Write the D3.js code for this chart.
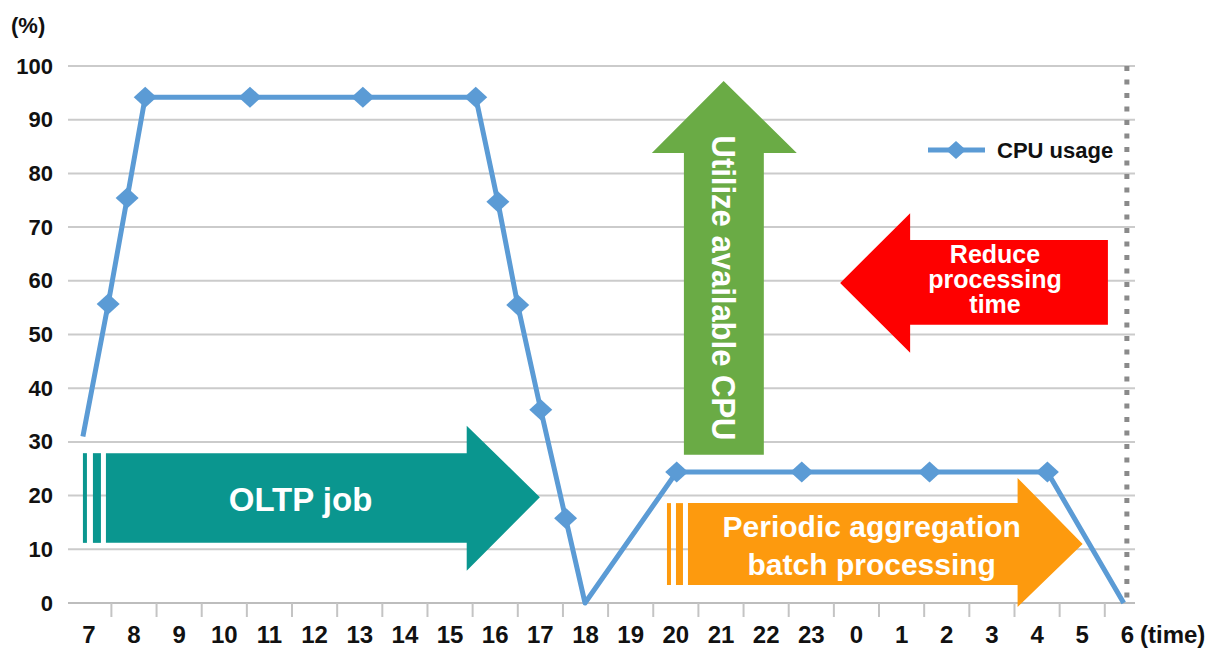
<!DOCTYPE html>
<html>
<head>
<meta charset="utf-8">
<script src="https://cdn.jsdelivr.net/npm/d3@7"></script>
<style>
  body { margin: 0; background: #fff; }
  svg text { font-family: "Liberation Sans", Arial, sans-serif; font-weight: bold; }
</style>
</head>
<body>
<script>
// hour axis: 7 o'clock through 6 o'clock next morning
var hours = d3.range(7, 31);
var hourLabels = ["7","8","9","10","11","12","13","14","15","16","17","18","19",
                  "20","21","22","23","0","1","2","3","4","5","6"];
var yTicks = [0, 10, 20, 30, 40, 50, 60, 70, 80, 90, 100];

// CPU usage points (time in hours, value in %)
var cpuTime  = [6.88, 7.44, 7.86, 8.26, 10.58, 13.08, 15.58, 16.07, 16.51, 17.02, 17.57, 18.0,
                20.03, 22.8, 25.63, 28.24, 29.93];
var cpuUsage = [31, 55.7, 75.4, 94.2, 94.2, 94.2, 94.2, 74.7, 55.5, 36, 15.8, 0,
                24.4, 24.4, 24.4, 24.4, 0];

var W = 1219, H = 655;
var plotLeft = 68, plotRight = 1135, plotTop = 66, plotBottom = 603;

var svg = d3.select("body").append("svg")
    .attr("width", W)
    .attr("height", H);

var x = d3.scaleLinear().domain([6.55, 30.18]).range([plotLeft, plotRight]);
var y = d3.scaleLinear().domain([0, 100]).range([plotBottom, plotTop]);

var blue = "#5b9bd5";

// gridlines
svg.append("g")
   .selectAll("line")
   .data(yTicks)
   .enter()
   .append("line")
   .attr("x1", plotLeft).attr("x2", plotRight)
   .attr("y1", function(d){ return y(d); })
   .attr("y2", function(d){ return y(d); })
   .attr("stroke", function(d){ return d === 0 ? "#bdbdbd" : "#cbcbcb"; })
   .attr("stroke-width", 2);

// small tick marks between hour labels
svg.append("g")
   .attr("transform", "translate(0," + plotBottom + ")")
   .call(d3.axisBottom(x).tickValues(d3.range(7.5, 30, 1)).tickSize(14).tickFormat(""))
   .call(function(g){ g.select(".domain").remove(); })
   .selectAll("line")
   .attr("stroke", "#c4c4c4")
   .attr("stroke-width", 2);

// hour labels
var xAxis = svg.append("g")
   .attr("transform", "translate(0," + plotBottom + ")")
   .call(d3.axisBottom(x).tickValues(hours).tickSize(0)
           .tickFormat(function(d, i){ return hourLabels[i]; }));
xAxis.select(".domain").remove();
xAxis.selectAll("text")
   .attr("y", 40)
   .attr("dy", null)
   .attr("fill", "#111")
   .style("font-size", "24px");

svg.append("text")
   .attr("x", 1140).attr("y", 643)
   .attr("fill", "#111")
   .style("font-size", "24px")
   .text("(time)");

// y labels
var yAxis = svg.append("g")
   .attr("transform", "translate(" + plotLeft + ",0)")
   .call(d3.axisLeft(y).tickValues(yTicks).tickSize(0));
yAxis.select(".domain").remove();
yAxis.selectAll("text")
   .attr("x", -15)
   .attr("fill", "#111")
   .style("font-size", "22px");

svg.append("text")
   .attr("x", 11).attr("y", 33)
   .attr("fill", "#111")
   .style("font-size", "22px")
   .text("(%)");

// dotted end-of-day line
svg.append("line")
   .attr("x1", x(30)).attr("x2", x(30))
   .attr("y1", y(100)).attr("y2", y(0))
   .attr("stroke", "#8a8a8a")
   .attr("stroke-width", 5)
   .attr("stroke-dasharray", "5,8.5");

// arrows, geometry in chart units
function rightArrow(a, fill, stripes) {
  var x0 = x(a.from), xh = x(a.head), xt = x(a.tip);
  var yt = y(a.top), yb = y(a.bot), yht = y(a.headTop), yhb = y(a.headBot), ym = y(a.mid);
  var g = svg.append("g");
  g.append("path")
   .attr("d", "M" + x0 + "," + yt + "L" + xh + "," + yt + "L" + xh + "," + yht +
              "L" + xt + "," + ym + "L" + xh + "," + yhb + "L" + xh + "," + yb +
              "L" + x0 + "," + yb + "Z")
   .attr("fill", fill);
  stripes.forEach(function(s){
    g.append("rect")
     .attr("x", x0 + s[0]).attr("y", yt)
     .attr("width", s[1]).attr("height", yb - yt)
     .attr("fill", fill);
  });
  return g;
}

var oltp = rightArrow({from: 7.39, head: 15.38, tip: 17.0, top: 27.9, bot: 11.2,
                       headTop: 33, headBot: 6, mid: 19.7}, "#0a968f", [[-23, 4], [-13, 8]]);
oltp.append("text")
    .attr("x", x(11.7)).attr("y", 511)
    .attr("text-anchor", "middle")
    .attr("fill", "#fff")
    .style("font-size", "33px")
    .text("OLTP job");

var batch = rightArrow({from: 20.28, head: 27.58, tip: 29.02, top: 18.6, bot: 3.35,
                        headTop: 23.3, headBot: -0.75, mid: 11.0}, "#fd9a0e", [[-21, 4], [-12, 7]]);
batch.append("text")
     .attr("x", x(24.35)).attr("y", 537)
     .attr("text-anchor", "middle")
     .attr("fill", "#fff")
     .style("font-size", "30px")
     .text("Periodic aggregation");
batch.append("text")
     .attr("x", x(24.35)).attr("y", 575)
     .attr("text-anchor", "middle")
     .attr("fill", "#fff")
     .style("font-size", "30px")
     .text("batch processing");

// green up arrow
var gx0 = x(20.19), gx1 = x(21.96), ghl = x(19.48), ghr = x(22.69), gtx = x(21.07);
var gty = y(97.2), ghy = y(83.8), gby = y(27.6);
svg.append("path")
   .attr("d", "M" + gx0 + "," + gby + "L" + gx0 + "," + ghy + "L" + ghl + "," + ghy +
              "L" + gtx + "," + gty + "L" + ghr + "," + ghy + "L" + gx1 + "," + ghy +
              "L" + gx1 + "," + gby + "Z")
   .attr("fill", "#6aab45");
svg.append("text")
   .attr("transform", "translate(" + gtx + "," + 288 + ") rotate(90)")
   .attr("text-anchor", "middle")
   .attr("dominant-baseline", "central")
   .attr("fill", "#fff")
   .attr("textLength", 305)
   .attr("lengthAdjust", "spacingAndGlyphs")
   .style("font-size", "33px")
   .text("Utilize available CPU");

// red left arrow
var rtx = x(23.65), rhx = x(25.2), rbx = x(29.58);
var rty = y(59.6), rbt = y(67.6), rbb = y(51.8), rht = y(72.6), rhb = y(46.6);
svg.append("path")
   .attr("d", "M" + rbx + "," + rbt + "L" + rhx + "," + rbt + "L" + rhx + "," + rht +
              "L" + rtx + "," + rty + "L" + rhx + "," + rhb + "L" + rhx + "," + rbb +
              "L" + rbx + "," + rbb + "Z")
   .attr("fill", "#fe0000");
svg.append("g")
   .selectAll("text")
   .data(["Reduce", "processing", "time"])
   .enter()
   .append("text")
   .attr("x", x(27.08))
   .attr("y", function(d, i){ return 263 + i * 25; })
   .attr("text-anchor", "middle")
   .attr("fill", "#fff")
   .style("font-size", "25px")
   .text(function(d){ return d; });

// CPU usage line
var pts = cpuTime.map(function(t, i){ return [t, cpuUsage[i]]; });
var line = d3.line()
    .x(function(d){ return x(d[0]); })
    .y(function(d){ return y(d[1]); });

svg.append("path")
   .datum(pts)
   .attr("d", line)
   .attr("fill", "none")
   .attr("stroke", blue)
   .attr("stroke-width", 5)
   .attr("stroke-linejoin", "round");

function diamond(cx, cy, w, h) {
  return "M" + (cx - w) + "," + cy + "L" + cx + "," + (cy - h) +
         "L" + (cx + w) + "," + cy + "L" + cx + "," + (cy + h) + "Z";
}

svg.append("g")
   .selectAll("path")
   .data(pts.filter(function(d, i){ return i > 0 && d[1] > 0; }))
   .enter()
   .append("path")
   .attr("d", function(d){ return diamond(x(d[0]), y(d[1]), 11.5, 10.5); })
   .attr("fill", blue);

// legend
var leg = svg.append("g");
leg.append("line")
   .attr("x1", 928).attr("x2", 985)
   .attr("y1", 150).attr("y2", 150)
   .attr("stroke", blue)
   .attr("stroke-width", 5);
leg.append("path")
   .attr("d", diamond(956, 150, 10, 9))
   .attr("fill", blue);
leg.append("text")
   .attr("x", 997).attr("y", 158)
   .attr("fill", "#111")
   .style("font-size", "22px")
   .text("CPU usage");
</script>
</body>
</html>
